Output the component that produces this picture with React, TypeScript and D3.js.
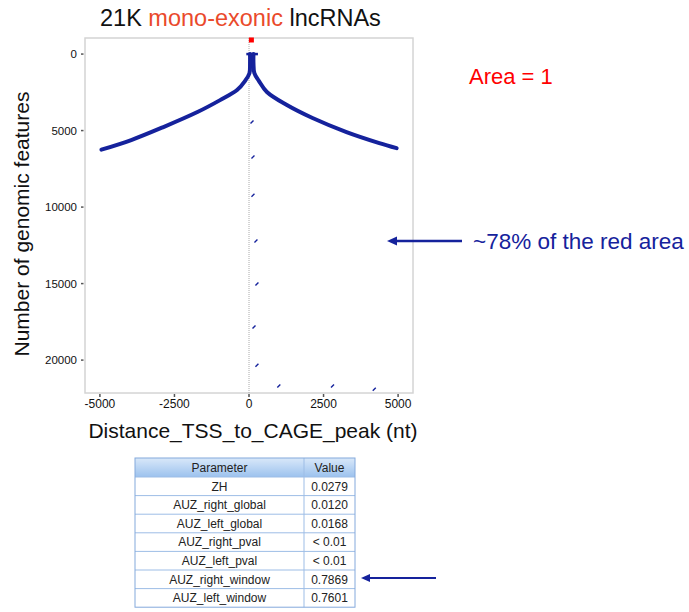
import * as d3 from 'd3'

// curve of cumulative features vs distance (left branch goes up to the stem, right comes down)
const leftX = [-4950, -3950, -2870, -1730, -970, -400, -130, 15, 35, 35]
const leftY = [6250, 5620, 4770, 3790, 3010, 2350, 1750, 1250, 600, 0]
const rightX = [150, 150, 180, 330, 600, 1270, 2130, 3270, 4370, 4950]
const rightY = [0, 600, 1250, 1750, 2480, 3330, 4180, 5100, 5820, 6150]
const capX = [-90, 300]
const capY = [0, 0]

// stray marks along the zero line
const markX = [100, 133, 133, 233, 267, 167, 267, 1000, 2800, 4200]
const markY = [4444, 6730, 9220, 12220, 15030, 17840, 20330, 21700, 21700, 21900]

const redX = [80]
const redY = [-920]

const xTicks = [-5000, -2500, 0, 2500, 5000]
const yTicks = [0, 5000, 10000, 15000, 20000]

const paramNames = [
  'ZH',
  'AUZ_right_global',
  'AUZ_left_global',
  'AUZ_right_pval',
  'AUZ_left_pval',
  'AUZ_right_window',
  'AUZ_left_window',
]
const paramValues = ['0.0279', '0.0120', '0.0168', '< 0.01', '< 0.01', '0.7869', '0.7601']

const font = "Arial, 'Liberation Sans', sans-serif"
const blue = '#15229c'

export default function App() {
  const width = 689
  const height = 612
  const plot = { left: 85, right: 413, top: 38, bottom: 393 }
  const x = d3.scaleLinear().domain([-5500, 5500]).range([plot.left, plot.right])
  const y = d3.scaleLinear().domain([-1050, 22150]).range([plot.top, plot.bottom])

  const line = d3
    .line<[number, number]>()
    .x((d) => x(d[0]))
    .y((d) => y(d[1]))
    .curve(d3.curveCatmullRom)
  const leftPath = line(leftX.map((v, i) => [v, leftY[i]])) ?? ''
  const rightPath = line(rightX.map((v, i) => [v, rightY[i]])) ?? ''
  const capPath = d3.line<[number, number]>().x((d) => x(d[0])).y((d) => y(d[1]))(
    capX.map((v, i) => [v, capY[i]]),
  ) ?? ''

  const table = { left: 135, right: 355, divider: 304, top: 458, header: 19, row: 18.6 }

  return (
    <div style={{ position: 'absolute', left: 0, top: 0 }}>
      <svg width={width} height={height} viewBox={`0 0 ${width} ${height}`} fontFamily={font}>
        <defs>
          <linearGradient id="hdr" x1="0" y1="0" x2="0" y2="1">
            <stop offset="0" stopColor="#d9e8f9" />
            <stop offset="1" stopColor="#9cc2ee" />
          </linearGradient>
        </defs>
        <rect width={width} height={height} fill="#fff" />

        <text x={100} y={26} fontSize={23.5} fill="#111">
          21K <tspan fill="#ea4a2c">mono-exonic</tspan> lncRNAs
        </text>

        <rect
          x={plot.left}
          y={plot.top}
          width={plot.right - plot.left}
          height={plot.bottom - plot.top}
          fill="none"
          stroke="#d4d4d4"
          strokeWidth={1.5}
        />

        <line
          x1={x(0)}
          x2={x(0)}
          y1={plot.top}
          y2={plot.bottom}
          stroke="#aaa"
          strokeWidth={1}
          strokeDasharray="1 1"
        />

        {yTicks.map((t) => (
          <g key={t}>
            <line x1={81} x2={83.5} y1={y(t)} y2={y(t)} stroke="#555" strokeWidth={1.5} />
            <text x={77} y={y(t) + 4} fontSize={11.5} textAnchor="end" fill="#111">
              {t}
            </text>
          </g>
        ))}
        {xTicks.map((t) => (
          <g key={t}>
            <line x1={x(t)} x2={x(t)} y1={plot.bottom + 1} y2={plot.bottom + 4} stroke="#555" strokeWidth={1.5} />
            <text x={x(t)} y={plot.bottom + 15} fontSize={12} textAnchor="middle" fill="#111">
              {t}
            </text>
          </g>
        ))}

        <path d={leftPath} fill="none" stroke={blue} strokeWidth={4} strokeLinecap="round" />
        <path d={rightPath} fill="none" stroke={blue} strokeWidth={4} strokeLinecap="round" />
        <path d={capPath} fill="none" stroke={blue} strokeWidth={2.5} />

        {markX.map((v, i) => (
          <line
            key={i}
            x1={x(v) - 1.5}
            x2={x(v) + 1.5}
            y1={y(markY[i]) + 1.5}
            y2={y(markY[i]) - 1.5}
            stroke={blue}
            strokeWidth={1.4}
          />
        ))}

        {redX.map((v, i) => (
          <rect key={i} x={x(v) - 2.5} y={y(redY[i]) - 2.5} width={5} height={5} fill="#ff0000" />
        ))}

        <text
          transform={`translate(29,224) rotate(-90)`}
          textAnchor="middle"
          fontSize={21}
          fill="#111"
        >
          Number of genomic features
        </text>
        <text x={253} y={438} textAnchor="middle" fontSize={21} fill="#111">
          Distance_TSS_to_CAGE_peak (nt)
        </text>

        <text x={469} y={84} fontSize={22} fill="#ff0000">
          Area = 1
        </text>

        <line x1={395} x2={462} y1={241} y2={241} stroke={blue} strokeWidth={2.5} />
        <path d="M387,241 L397,236.5 L397,245.5 Z" fill={blue} />
        <text x={473} y={249} fontSize={22.5} fill={blue}>
          ~78% of the red area
        </text>

        <rect
          x={table.left}
          y={table.top}
          width={table.right - table.left}
          height={table.header}
          fill="url(#hdr)"
        />
        <text x={(table.left + table.divider) / 2} y={table.top + 13.5} textAnchor="middle" fontSize={12} fill="#222">
          Parameter
        </text>
        <text x={(table.divider + table.right) / 2} y={table.top + 13.5} textAnchor="middle" fontSize={12} fill="#222">
          Value
        </text>
        {paramNames.map((name, i) => {
          const top = table.top + table.header + i * table.row
          return (
            <g key={name}>
              <line x1={table.left} x2={table.right} y1={top} y2={top} stroke="#9dbde6" strokeWidth={1} />
              <text x={(table.left + table.divider) / 2} y={top + 13.5} textAnchor="middle" fontSize={12} fill="#222">
                {name}
              </text>
              <text x={(table.divider + table.right) / 2} y={top + 13.5} textAnchor="middle" fontSize={12} fill="#222">
                {paramValues[i]}
              </text>
            </g>
          )
        })}
        <line
          x1={table.divider}
          x2={table.divider}
          y1={table.top}
          y2={table.top + table.header + paramNames.length * table.row}
          stroke="#9dbde6"
        />
        <rect
          x={table.left}
          y={table.top}
          width={table.right - table.left}
          height={table.header + paramNames.length * table.row}
          fill="none"
          stroke="#84a9dc"
          strokeWidth={1}
        />

        <line x1={368} x2={436} y1={578} y2={578} stroke={blue} strokeWidth={2} />
        <path d="M361,578 L370,574 L370,582 Z" fill={blue} />
      </svg>
    </div>
  )
}
